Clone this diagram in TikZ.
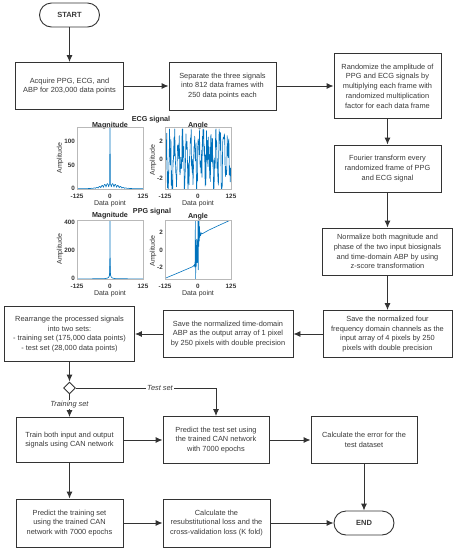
\documentclass[tikz,border=0pt]{standalone}
\usepackage{fontspec}
\setmainfont{Liberation Sans}
\usetikzlibrary{arrows.meta,shapes.geometric}
\definecolor{ln}{HTML}{333333}
\definecolor{mb}{HTML}{0072BD}
\definecolor{tx}{HTML}{3A3A3A}
\begin{document}
\begin{tikzpicture}[x=1pt,y=-1pt,
  box/.style={draw=ln, line width=0.9pt, fill=white, align=center,
    font=\fontsize{7.4}{9.8}\selectfont, text=tx, inner sep=1pt},
  term/.style={draw=ln, line width=0.9pt, fill=white, rounded corners=12pt,
    minimum width=60pt, minimum height=24pt, font=\fontsize{7.5}{9}\selectfont\bfseries, text=tx},
  arr/.style={draw=ln, line width=0.9pt, -{Latex[length=7pt,width=6pt]}},
  lab/.style={fill=white, inner sep=1pt, font=\fontsize{7.4}{8}\selectfont\itshape, text=tx},
  axc/.style={draw=gray!55, line width=0.4pt},
  tick/.style={inner sep=0pt, font=\fontsize{6.3}{7}\selectfont\bfseries, text=black!80},
  ttl/.style={inner sep=0pt, font=\fontsize{7.2}{8}\selectfont\bfseries, text=black!85},
  axl/.style={inner sep=0pt, font=\fontsize{7}{8}\selectfont, text=black!80},
  sig/.style={mb, line width=0.6pt, line join=round}
]
\useasboundingbox (0,0) rectangle (458,550);

% ---------- flow nodes ----------
\node[term] (start) at (69.5,15) {START};
\node[box, minimum width=108pt, minimum height=47pt] (b1) at (69.5,86)
  {Acquire PPG, ECG, and\\ABP for 203,000 data points};
\node[box, minimum width=107pt, minimum height=48pt] (b2) at (222.5,86)
  {Separate the three signals\\into 812 data frames with\\250 data points each};
\node[box, minimum width=107pt, minimum height=65pt] (b3) at (387.5,86)
  {Randomize the amplitude of\\PPG and ECG signals by\\multiplying each frame with\\randomized multiplication\\factor for each data frame};
\node[box, minimum width=107pt, minimum height=47pt] (b4) at (387.5,168.5)
  {Fourier transform every\\randomized frame of PPG\\and ECG signal};
\node[box, minimum width=130pt, minimum height=47pt] (b5) at (387.5,251.5)
  {Normalize both magnitude and\\phase of the two input biosignals\\and time-domain ABP by using\\z-score transformation};
\node[box, minimum width=129pt, minimum height=47pt] (b6) at (387.5,334)
  {Save the normalized four\\frequency domain channels as the\\input array of 4 pixels by 250\\pixels with double precision};
\node[box, minimum width=130pt, minimum height=47pt] (b7) at (228,334)
  {Save the normalized time-domain\\ABP as the output array of 1 pixel\\by 250 pixels with double precision};
\node[box, minimum width=130pt, minimum height=55pt] (b8) at (69.5,334)
  {Rearrange the processed signals\\into two sets:\\- training set (175,000 data points)\\- test set (28,000 data points)};
\node[diamond, draw=ln, line width=0.9pt, fill=white, minimum size=12pt, inner sep=0pt] (dec) at (69.5,388) {};
\node[box, minimum width=107pt, minimum height=45pt] (b9) at (69.5,440)
  {Train both input and output\\signals using CAN network};
\node[box, minimum width=106pt, minimum height=47pt] (b10) at (216,440)
  {Predict the test set using\\the trained CAN network\\with 7000 epochs};
\node[box, minimum width=106pt, minimum height=47pt] (b11) at (364,440)
  {Calculate the error for the\\test dataset};
\node[box, minimum width=107pt, minimum height=48pt] (b12) at (69.5,523)
  {Predict the training set\\using the trained CAN\\network with 7000 epochs};
\node[box, minimum width=107pt, minimum height=48pt] (b13) at (216.5,523)
  {Calculate the\\resubstitutional loss and the\\cross-validation loss (K fold)};
\node[term] (end) at (364,523) {END};

% ---------- connectors ----------
\draw[arr] (start) -- (b1);
\draw[arr] (b1) -- (b2);
\draw[arr] (b2) -- (b3);
\draw[arr] (b3) -- (b4);
\draw[arr] (b4) -- (b5);
\draw[arr] (b5) -- (b6);
\draw[arr] (b6) -- (b7);
\draw[arr] (b7) -- (b8);
\draw[arr] (b8) -- (dec);
\draw[arr] (dec.east) -| node[lab, pos=0.3] (ltest) {Test set} (b10.north);
\draw[arr] (dec.south) -- node[lab, pos=0.45] (ltrain) {Training set} (b9.north);
\draw[arr] (b9) -- (b10);
\draw[arr] (b10) -- (b11);
\draw[arr] (b9) -- (b12);
\draw[arr] (b12) -- (b13);
\draw[arr] (b13) -- (end);
\draw[arr] (b11) -- (end);

% ---------- ECG magnitude ----------
\node[ttl] (ecgt) at (151,119.5) {ECG signal};
\node[ttl] (m1t) at (110,125.5) {Magnitude};
\begin{scope}
\clip (77,127) rectangle (143,189);
\begin{scope}[shift={(110pt,-189pt)}, x=0.264pt, y=0.48pt]
  \draw[sig] plot[domain=-125:125, samples=251]
    (\x, {0.8+11*exp(-(\x/42)*(\x/42))*(0.35+0.65*abs(cos(\x*18)))});
  \draw[sig] (-1.5,12) -- (0,135) -- (1.5,12);
\end{scope}
\end{scope}
\draw[axc] (77,127) rectangle (143,189);
\node[tick] (m1x1) at (77,196) {-125};
\node[tick] (m1x2) at (110,196) {0};
\node[tick] (m1x3) at (143,196) {125};
\node[tick, anchor=east] (m1y1) at (75,141) {100};
\node[tick, anchor=east] (m1y2) at (75,165) {50};
\node[tick, anchor=east] (m1y3) at (75,188) {0};
\node[axl] (m1xl) at (110,204) {Data point};
\node[axl, rotate=90] (m1yl) at (60,158) {Amplitude};

% ---------- ECG angle ----------
\node[ttl] (a1t) at (198,125.5) {Angle};
\pgfmathsetseed{17}
\begin{scope}
\clip (165,127) rectangle (231,189);
\begin{scope}[shift={(198pt,-159.5pt)}, x=0.264pt, y=9.25pt]
  \draw[sig] plot[domain=-125:125, samples=190]
    (\x, {max(-3.3,min(3.3, 2.0*sin(\x*23)+2.4*rand))});
\end{scope}
\end{scope}
\draw[axc] (165,127) rectangle (231,189);
\node[tick] (a1x1) at (165,196) {-125};
\node[tick] (a1x2) at (198,196) {0};
\node[tick] (a1x3) at (231,196) {125};
\node[tick, anchor=east] (a1y1) at (163,141) {2};
\node[tick, anchor=east] (a1y2) at (163,159.5) {0};
\node[tick, anchor=east] (a1y3) at (163,178) {-2};
\node[axl] (a1xl) at (198,204) {Data point};
\node[axl, rotate=90] (a1yl) at (153,160) {Amplitude};

% ---------- PPG magnitude ----------
\node[ttl] (ppgt) at (152,212) {PPG signal};
\node[ttl] (m2t) at (110,216) {Magnitude};
\begin{scope}
\clip (77,220) rectangle (143,279);
\begin{scope}[shift={(110pt,-279pt)}, x=0.264pt, y=0.1425pt]
  \draw[sig] plot coordinates {(-125,1) (-60,1.5) (-20,3) (-10,6) (-5,12) (-3,20) (-2,30)
     (-1,55) (0,420) (1,60) (2,32) (3,22) (5,13) (10,6) (20,3) (60,1.5) (125,1)};
  \draw[sig] (-1,20) -- (0,90) -- (1,25) -- (0,60) -- (-1,30);
\end{scope}
\end{scope}
\draw[axc] (77,220) rectangle (143,279);
\node[tick] (m2x1) at (77,286) {-125};
\node[tick] (m2x2) at (110,286) {0};
\node[tick] (m2x3) at (143,286) {125};
\node[tick, anchor=east] (m2y1) at (75,222) {400};
\node[tick, anchor=east] (m2y2) at (75,250) {200};
\node[tick, anchor=east] (m2y3) at (75,278) {0};
\node[axl] (m2xl) at (110,294) {Data point};
\node[axl, rotate=90] (m2yl) at (60,249) {Amplitude};

% ---------- PPG angle ----------
\node[ttl] (a2t) at (198,216.5) {Angle};
\begin{scope}
\clip (165,220) rectangle (231,279);
\begin{scope}[shift={(198pt,-250pt)}, x=0.264pt, y=9pt]
  \draw[sig] plot coordinates {(-125,-3.15) (-80,-2.6) (-40,-2.1) (-20,-1.85) (-15,-1.7)
     (-13,-1.6) (-12,-1.9) (-11,-1.2) (-10,3.3) (-9,-3.2) (-8,-1) (-7,0.5) (-6,-1.8)
     (-5,1.2) (-4,-0.6) (-3,0.8) (-2,-1.4) (-1,0.6) (0,3.3) (1,-2.2) (2,2.2) (3,0.4)
     (4,3.3) (5,1) (6,2.6) (7,1.4) (8,2.0) (10,1.6) (13,1.9) (16,1.8) (40,2.2) (80,2.75) (125,3.35)};
\end{scope}
\end{scope}
\draw[axc] (165,220) rectangle (231,279);
\node[tick] (a2x1) at (165,286) {-125};
\node[tick] (a2x2) at (198,286) {0};
\node[tick] (a2x3) at (231,286) {125};
\node[tick, anchor=east] (a2y1) at (163,232) {2};
\node[tick, anchor=east] (a2y2) at (163,250) {0};
\node[tick, anchor=east] (a2y3) at (163,267) {-2};
\node[axl] (a2xl) at (198,294) {Data point};
\node[axl, rotate=90] (a2yl) at (153,251) {Amplitude};
\end{tikzpicture}
\end{document}
